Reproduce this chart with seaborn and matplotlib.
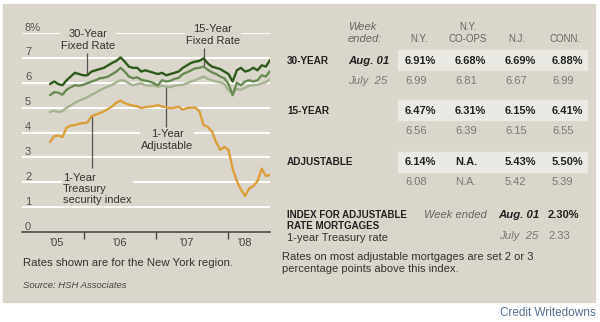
import numpy as np
import pandas as pd
import matplotlib
matplotlib.use("Agg")
import matplotlib.pyplot as plt
from matplotlib.patches import Rectangle
from matplotlib.transforms import blended_transform_factory
import seaborn as sns

# ---------------- data ----------------
last_week = "2008-08-01"   # weekly survey, every third week shown
rate_30yr = [5.95, 6.05, 5.95, 5.90, 6.10, 6.25, 6.40, 6.35, 6.30, 6.30,
             6.45, 6.50, 6.55, 6.60, 6.70, 6.80, 6.88, 7.02, 6.85, 6.65,
             6.60, 6.60, 6.45, 6.50, 6.45, 6.40, 6.35, 6.40, 6.30, 6.35,
             6.40, 6.45, 6.60, 6.70, 6.80, 6.85, 6.88, 6.98, 6.78, 6.65,
             6.60, 6.55, 6.45, 6.35, 6.05, 6.50, 6.60, 6.45, 6.50, 6.60,
             6.50, 6.70, 6.65, 6.91]
rate_15yr = [5.50, 5.62, 5.60, 5.52, 5.72, 5.82, 5.90, 5.88, 5.92, 5.98,
             6.05, 6.10, 6.18, 6.20, 6.25, 6.35, 6.45, 6.60, 6.45, 6.25,
             6.18, 6.22, 6.12, 6.08, 6.05, 5.98, 5.90, 6.10, 6.05, 6.08,
             6.15, 6.20, 6.35, 6.42, 6.50, 6.58, 6.60, 6.65, 6.52, 6.42,
             6.35, 6.25, 6.18, 5.95, 5.50, 6.00, 5.90, 6.05, 6.10, 6.05,
             6.10, 6.30, 6.25, 6.47]
rate_arm = [4.83, 4.88, 4.82, 4.86, 5.00, 5.08, 5.20, 5.28, 5.35, 5.42,
            5.52, 5.60, 5.70, 5.78, 5.85, 5.92, 6.02, 6.10, 6.08, 5.98,
            5.90, 5.95, 5.98, 5.90, 5.88, 5.90, 5.84, 5.88, 5.85, 5.82,
            5.88, 5.90, 5.92, 5.98, 6.05, 6.10, 6.18, 6.25, 6.15, 6.10,
            6.05, 6.02, 5.95, 5.70, 5.58, 5.75, 5.72, 5.80, 5.88, 5.90,
            5.92, 5.98, 6.02, 6.14]
rate_treasury = [3.62, 3.85, 3.88, 3.82, 4.20, 4.28, 4.30, 4.35, 4.38, 4.40,
                 4.65, 4.72, 4.78, 4.85, 4.95, 5.05, 5.20, 5.28, 5.18, 5.12,
                 5.08, 5.05, 4.98, 5.02, 5.04, 5.06, 5.10, 5.04, 5.02, 4.97,
                 5.00, 5.03, 4.92, 4.98, 5.00, 5.00, 4.85, 4.30, 4.22, 4.05,
                 3.62, 3.30, 3.42, 3.30, 2.55, 2.05, 1.70, 1.45, 1.75, 1.85,
                 2.05, 2.55, 2.25, 2.30]
series_names = ["1-Year Treasury security index", "1-Year Adjustable",
                "15-Year Fixed Rate", "30-Year Fixed Rate"]
year_labels = ["'05", "'06", "'07", "'08"]
year_starts = ["2006-01-01", "2007-01-01", "2008-01-01"]
y_labels = ["0", "1", "2", "3", "4", "5", "6", "7", "8%"]

table_header = ["N.Y.", "CO-OPS", "N.J.", "CONN."]
table_rows = ["30-YEAR", "15-YEAR", "ADJUSTABLE"]
table_current = [["6.91%", "6.68%", "6.69%", "6.88%"],
                 ["6.47%", "6.31%", "6.15%", "6.41%"],
                 ["6.14%", "N.A.", "5.43%", "5.50%"]]
table_prior = [["6.99", "6.81", "6.67", "6.99"],
               ["6.56", "6.39", "6.15", "6.55"],
               ["6.08", "N.A.", "5.42", "5.39"]]
index_current = "2.30%"
index_prior = "2.33"

# ---------------- styling ----------------
sns.set_theme(style="white")
plt.rcParams["font.family"] = ["Liberation Sans", "DejaVu Sans"]

BG = "#dad6cb"
BAND = "#ebe9e3"
C_DARK = "#2e5a1c"
C_MED = "#698a55"
C_LIGHT = "#a5b393"
C_ORANGE = "#d9a03c"
C_LEAD = "#555555"
C_TXT = "#333333"
C_GRAY = "#7a7a7a"

W, H = 600, 322
fig = plt.figure(figsize=(6, 3.22), dpi=100, facecolor="white")


def fx(px):
    return px / W


def fy(py):
    return 1 - py / H


# panel background
fig.patches.append(Rectangle((fx(3), fy(302)), fx(592), 298 / H,
                             transform=fig.transFigure, color=BG, zorder=-5))
# table highlight bands
for y0 in (50, 100, 152):
    fig.patches.append(Rectangle((fx(398), fy(y0 + 20)), fx(189), 20 / H,
                                 transform=fig.transFigure, color=BAND, zorder=-4))

# ---------------- chart ----------------
n = len(rate_30yr)
dates = pd.Timestamp(last_week) - pd.to_timedelta(21 * np.arange(n - 1, -1, -1), unit="D")
df = pd.DataFrame({
    "date": np.tile(dates, 4),
    "rate": np.concatenate([rate_treasury, rate_arm, rate_15yr, rate_30yr]),
    "series": np.repeat(series_names, n),
})

ax = fig.add_axes([fx(22), fy(232), 248 / W, 199 / H])
ax.set_facecolor("none")

span = dates[-1] - dates[0]


def px2date(px):
    return dates[0] + (px - 50) / 220 * span


def px2val(py):
    return (232 - py) / 24.875


sns.lineplot(data=df, x="date", y="rate", hue="series", hue_order=series_names,
             palette=[C_ORANGE, C_LIGHT, C_MED, C_DARK], linewidth=1.7,
             legend=False, estimator=None, ax=ax, zorder=3)

ax.set_xlim(px2date(22), px2date(270))
ax.set_ylim(0, 8)
for v in range(1, 9):
    ax.axhline(v, color="white", lw=1.3, zorder=0.5)

for s in ("top", "right", "left"):
    ax.spines[s].set_visible(False)
ax.spines["bottom"].set_color("#4a4a4a")
ax.spines["bottom"].set_linewidth(1.2)
ax.set_yticks([])
ax.set_xlabel("")
ax.set_ylabel("")
ax.set_xticks([pd.Timestamp(d) for d in year_starts])
ax.set_xticklabels([""] * len(year_starts))
ax.tick_params(axis="x", which="major", direction="out", length=5, width=1,
               color="#4a4a4a", bottom=True)
ax.set_xticks([px2date(p) for p in (57, 120, 187, 245)], minor=True)
ax.set_xticklabels(year_labels, minor=True)
ax.tick_params(axis="x", which="minor", length=0, pad=4, labelsize=8,
               labelcolor="#444444")

ytr = blended_transform_factory(ax.transAxes, ax.transData)
for v, lab in enumerate(y_labels):
    ax.text(0.012, v + 0.22, lab, transform=ytr, ha="left", va="center",
            fontsize=8, color="#555555")

# annotations
box = dict(facecolor=BG, edgecolor="none", pad=1.0)
ax.text(fx(88), fy(40), "30-Year\nFixed Rate", transform=fig.transFigure,
        ha="center", va="center", fontsize=8, color=C_TXT, linespacing=1.15,
        bbox=box, zorder=1)
ax.text(fx(213), fy(35), "15-Year\nFixed Rate", transform=fig.transFigure,
        ha="center", va="center", fontsize=8, color=C_TXT, linespacing=1.15,
        bbox=box, zorder=1)
ax.text(fx(167), fy(140), "1-Year\nAdjustable", transform=fig.transFigure,
        ha="center", va="center", fontsize=8, color=C_TXT, linespacing=1.15,
        bbox=box, zorder=1)
ax.text(fx(63), fy(189), "1-Year\nTreasury\nsecurity index", transform=fig.transFigure,
        ha="left", va="center", fontsize=8, color=C_TXT, linespacing=1.1,
        bbox=box, zorder=1)

# leader lines from the series to their labels
lead = dict(color=C_LEAD, lw=0.9, zorder=1.5, solid_capstyle="butt")
ax.plot([dates[9], dates[9]], [rate_30yr[9], px2val(53)], **lead)
ax.plot([dates[37], dates[37]], [rate_15yr[37], px2val(48)], **lead)
ax.plot([dates[28], dates[28]], [rate_arm[28], px2val(127)], **lead)
ax.plot([dates[10], dates[10]], [rate_treasury[10], px2val(168)], **lead)

fig.text(fx(23), fy(263), "Rates shown are for the New York region.",
         ha="left", va="center", fontsize=8.2, color=C_TXT)
fig.text(fx(23), fy(286), "Source: HSH Associates", ha="left", va="center",
         fontsize=6.8, color="#444444", style="italic")

# ---------------- table ----------------
fig.text(fx(348), fy(27), "Week", ha="left", va="center", fontsize=8,
         style="italic", color="#666666")
fig.text(fx(348), fy(39), "ended:", ha="left", va="center", fontsize=8,
         style="italic", color="#666666")
fig.text(fx(468), fy(27), "N.Y.", ha="center", va="center", fontsize=7,
         color="#666666")
for lab, cx in zip(table_header, (419, 468, 517, 565)):
    fig.text(fx(cx), fy(39), lab, ha="center", va="center", fontsize=7,
             color="#666666")

col_x = (405, 455, 505, 552)
for r, (name, cur, pri) in enumerate(zip(table_rows, table_current, table_prior)):
    y_cur = (61, 111, 162)[r]
    y_pri = y_cur + 20
    fig.text(fx(287), fy(y_cur), name, ha="left", va="center", fontsize=7.2,
             weight="bold", color="#222222")
    for cx, val in zip(col_x, cur):
        fig.text(fx(cx), fy(y_cur), val, ha="left", va="center", fontsize=8,
                 weight="bold", color="#222222")
    for cx, val in zip(col_x, pri):
        fig.text(fx(cx), fy(y_pri), val, ha="left", va="center", fontsize=8,
                 color=C_GRAY)
    if r == 0:
        fig.text(fx(348), fy(y_cur), "Aug. 01", ha="left", va="center",
                 fontsize=8.2, weight="bold", style="italic", color="#222222")
        fig.text(fx(348), fy(y_pri), "July  25", ha="left", va="center",
                 fontsize=8.2, style="italic", color=C_GRAY)

fig.text(fx(287), fy(215), "INDEX FOR ADJUSTABLE", ha="left", va="center",
         fontsize=7, weight="bold", color="#222222")
fig.text(fx(287), fy(226), "RATE MORTGAGES", ha="left", va="center",
         fontsize=7, weight="bold", color="#222222")
fig.text(fx(287), fy(238), "1-year Treasury rate", ha="left", va="center",
         fontsize=8, color=C_TXT)
fig.text(fx(424), fy(215), "Week ended", ha="left", va="center", fontsize=8,
         style="italic", color="#666666")
fig.text(fx(498), fy(215), "Aug. 01", ha="left", va="center", fontsize=8.2,
         weight="bold", style="italic", color="#222222")
fig.text(fx(548), fy(215), index_current, ha="left", va="center", fontsize=8,
         weight="bold", color="#222222")
fig.text(fx(538), fy(236), "July  25", ha="right", va="center", fontsize=8.2,
         style="italic", color=C_GRAY)
fig.text(fx(548), fy(236), index_prior, ha="left", va="center", fontsize=8,
         color=C_GRAY)
fig.text(fx(282), fy(257), "Rates on most adjustable mortgages are set 2 or 3",
         ha="left", va="center", fontsize=8, color=C_TXT)
fig.text(fx(282), fy(269), "percentage points above this index.",
         ha="left", va="center", fontsize=8, color=C_TXT)

# credit line
fig.text(fx(596), fy(313), "Credit Writedowns", ha="right", va="center",
         fontsize=8.5, color="#55708f")

fig.savefig("out.png", dpi=100, facecolor="white")
